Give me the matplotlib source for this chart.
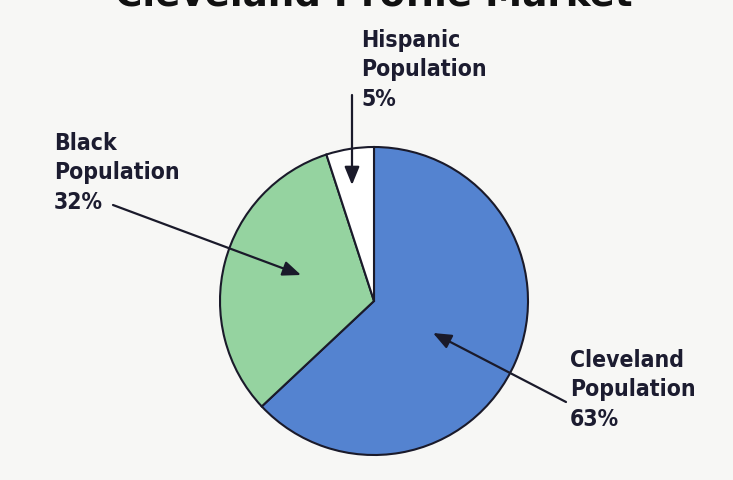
import matplotlib
matplotlib.use("Agg")
import matplotlib.pyplot as plt

# data
groups = ["Cleveland\nPopulation", "Black\nPopulation", "Hispanic\nPopulation"]
shares = [63, 32, 5]
colors = ["#5483d0", "#95d3a0", "#ffffff"]

W, H = 733, 480
fig = plt.figure(figsize=(W / 100, H / 100), dpi=100)
fig.patch.set_facecolor("#f7f7f5")
ax = fig.add_axes([0, 0, 1, 1])

cx, cy, r = 374, H - 301, 154
wedges, _ = ax.pie(shares, colors=colors, startangle=90, counterclock=False,
                   center=(cx, cy), radius=r, frame=True,
                   wedgeprops=dict(edgecolor="#1a1a2a", linewidth=1.5))
ax.set_xlim(0, W)
ax.set_ylim(0, H)
ax.set_aspect("equal")
ax.axis("off")

lab_font = dict(family=["DejaVu Sans"], fontweight="bold", fontstretch="condensed",
                fontsize=16.5, color="#1c1c30", linespacing=1.35)

# label text anchor (image px, top-left) and arrow tail / tip
label_pos = [(570, 349), (54, 132), (361, 29)]
arrow_tail = [(566, 402), (113, 205), (352, 95)]
arrow_tip = [(433, 333), (301, 275), (352, 185)]

for g, s, (lx, ly), (tx, ty), (hx, hy) in zip(groups, shares, label_pos, arrow_tail, arrow_tip):
    ax.text(lx, H - ly, f"{g}\n{s}%", ha="left", va="top", **lab_font)
    ax.annotate("", xy=(hx, H - hy), xytext=(tx, H - ty),
                arrowprops=dict(arrowstyle="-|>,head_length=1.1,head_width=0.45",
                                color="#1a1a2a", lw=1.6, shrinkA=0, shrinkB=0))

# title: only the lower part is visible in the scan; fit its width to ~518 px
title = fig.text(374 / W, 1 - 6 / H, "Cleveland Profile Market", ha="center", va="baseline",
                 fontsize=32, fontweight="bold", family=["DejaVu Sans"], color="#111111")
rend = fig.canvas.get_renderer()
w = title.get_window_extent(rend).width
title.set_fontsize(32 * 518 / w)

fig.savefig("out.png", dpi=100, facecolor=fig.get_facecolor())
